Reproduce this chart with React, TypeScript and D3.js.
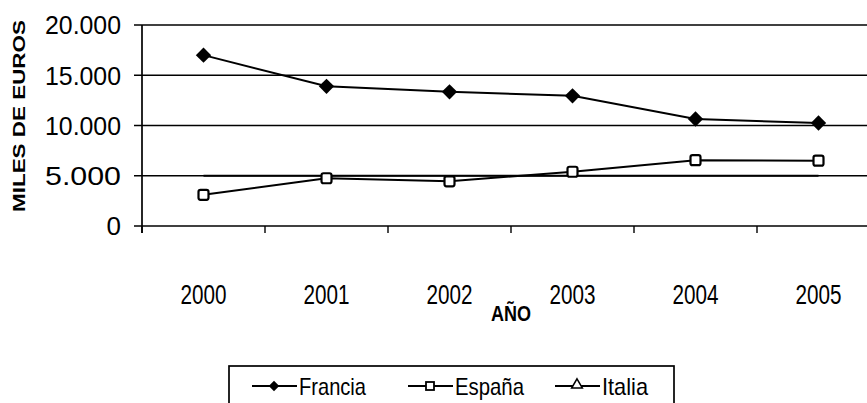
import React, { useRef, useEffect } from "react"
import * as d3 from "d3"

const years = ["2000", "2001", "2002", "2003", "2004", "2005"]
const francia = [17000, 13900, 13350, 12950, 10650, 10250]
const espana = [3100, 4750, 4450, 5400, 6550, 6500]
const italia = [5000, 5000, 5000, 5000, 5000, 5000]
const yTicks = [0, 5000, 10000, 15000, 20000]
const legendLabels = ["Francia", "España", "Italia"]

const W = 867
const H = 403
const sans = "'Liberation Sans', Arial, sans-serif"

const App = () => {
  const ref = useRef<SVGSVGElement>(null)

  useEffect(() => {
    const svg = d3.select(ref.current)
    svg.selectAll("*").remove()

    // plot area runs off the right edge, like the scan
    const left = 142, top = 25, bottom = 226
    const band = 123
    const x = d3.scaleBand().domain(years).range([left, left + band * years.length])
    const y = d3.scaleLinear().domain([0, 20000]).range([bottom, top])
    const cx = (d: string) => (x(d) as number) + x.bandwidth() / 2

    // gridlines
    svg.append("g")
      .selectAll("line")
      .data(yTicks)
      .enter()
      .append("line")
        .attr("x1", left - 8)
        .attr("x2", W)
        .attr("y1", d => y(d))
        .attr("y2", d => y(d))
        .attr("stroke", "#000")
        .attr("stroke-width", 1.7)

    svg.append("line")
      .attr("x1", left).attr("x2", left)
      .attr("y1", top).attr("y2", bottom + 7)
      .attr("stroke", "#000").attr("stroke-width", 1.7)

    // x ticks at band boundaries
    svg.append("g")
      .selectAll("line")
      .data(years)
      .enter()
      .append("line")
        .attr("x1", d => x(d) as number)
        .attr("x2", d => x(d) as number)
        .attr("y1", bottom)
        .attr("y2", bottom + 7)
        .attr("stroke", "#000")
        .attr("stroke-width", 1.4)

    // y tick labels
    svg.append("g")
      .selectAll("text")
      .data(yTicks)
      .enter()
      .append("text")
        .attr("x", 121)
        .attr("y", d => y(d))
        .attr("dy", "0.36em")
        .attr("text-anchor", "end")
        .attr("font-family", sans)
        .attr("font-size", 26)
        .attr("textLength", d => d === 0 ? null : 76)
        .attr("lengthAdjust", "spacingAndGlyphs")
        .text(d => d === 0 ? "0" : d3.format(",")(d).replace(/,/g, "."))

    // x tick labels
    svg.append("g")
      .selectAll("text")
      .data(years)
      .enter()
      .append("text")
        .attr("x", d => cx(d) - 23)
        .attr("y", 304)
        .attr("font-family", sans)
        .attr("font-size", 27)
        .attr("textLength", 46)
        .attr("lengthAdjust", "spacingAndGlyphs")
        .text(d => d)

    svg.append("text")
      .attr("x", 491).attr("y", 321)
      .attr("font-family", sans)
      .attr("font-weight", "bold")
      .attr("font-size", 22)
      .attr("textLength", 40)
      .attr("lengthAdjust", "spacingAndGlyphs")
      .text("AÑO")

    svg.append("text")
      .attr("transform", "translate(25,212) rotate(-90)")
      .attr("font-family", sans)
      .attr("font-weight", "bold")
      .attr("font-size", 17)
      .attr("textLength", 192)
      .attr("lengthAdjust", "spacingAndGlyphs")
      .text("MILES DE EUROS")

    const line = d3.line<number>()
      .x((d, i) => cx(years[i]))
      .y(d => y(d))

    const drawLine = (vals: number[]) =>
      svg.append("path")
        .attr("d", line(vals))
        .attr("fill", "none")
        .attr("stroke", "#000")
        .attr("stroke-width", 2)

    drawLine(italia)
    drawLine(espana)
    drawLine(francia)

    const diamond = d3.symbol().type(d3.symbolDiamond2).size(150)
    svg.append("g")
      .selectAll("path")
      .data(francia)
      .enter()
      .append("path")
        .attr("d", diamond)
        .attr("transform", (d, i) => `translate(${cx(years[i])},${y(d)})`)
        .attr("fill", "#000")

    svg.append("g")
      .selectAll("rect")
      .data(espana)
      .enter()
      .append("rect")
        .attr("x", (d, i) => cx(years[i]) - 5)
        .attr("y", d => y(d) - 5)
        .attr("width", 10)
        .attr("height", 10)
        .attr("rx", 2)
        .attr("fill", "#fff")
        .attr("stroke", "#000")
        .attr("stroke-width", 2.2)

    // legend
    const lg = svg.append("g")
    lg.append("rect")
      .attr("x", 229).attr("y", 366)
      .attr("width", 445).attr("height", 60)
      .attr("fill", "none").attr("stroke", "#000").attr("stroke-width", 1.7)

    const lx = [252, 408, 555]
    const lw = [67, 69, 46]
    const ly = 386
    legendLabels.forEach((label, i) => {
      const x0 = lx[i]
      lg.append("line")
        .attr("x1", x0).attr("x2", x0 + 45)
        .attr("y1", ly).attr("y2", ly)
        .attr("stroke", "#000").attr("stroke-width", 2)
      const mx = x0 + 22
      if (i === 0) {
        lg.append("path").attr("d", d3.symbol().type(d3.symbolDiamond2).size(70)())
          .attr("transform", `translate(${mx},${ly})`).attr("fill", "#000")
      } else if (i === 1) {
        lg.append("rect").attr("x", mx - 4).attr("y", ly - 4).attr("width", 8).attr("height", 8)
          .attr("fill", "#fff").attr("stroke", "#000").attr("stroke-width", 1.8)
      } else {
        lg.append("path").attr("d", d3.symbol().type(d3.symbolTriangle).size(50)())
          .attr("transform", `translate(${mx},${ly - 1})`)
          .attr("fill", "#fff").attr("stroke", "#000").attr("stroke-width", 1.5)
      }
      lg.append("text")
        .attr("x", x0 + 47).attr("y", ly)
        .attr("dy", "0.36em")
        .attr("font-family", sans)
        .attr("font-size", 24)
        .attr("textLength", lw[i])
        .attr("lengthAdjust", "spacingAndGlyphs")
        .text(label)
    })
  }, [])

  return (
    <svg
      ref={ref}
      width={W}
      height={H}
      style={{ position: "absolute", left: 0, top: 0, background: "#fff" }}
    />
  )
}

export default App
